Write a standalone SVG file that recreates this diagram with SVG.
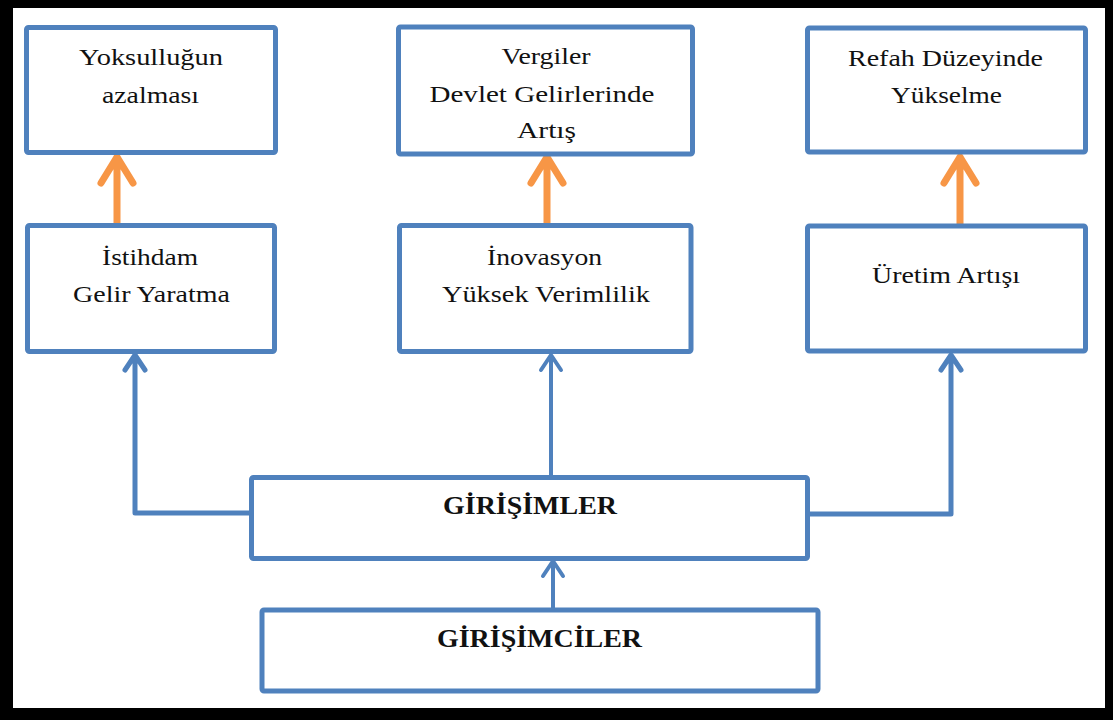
<svg xmlns="http://www.w3.org/2000/svg" width="1113" height="720" viewBox="0 0 1113 720">
<style>
.box{fill:#fff;stroke:#4F81BD;stroke-width:5;stroke-linejoin:round}
.t{font-family:"Liberation Serif","Times New Roman",serif;font-size:24px;fill:#111;text-anchor:middle}
.b{font-weight:bold;font-size:25px}
.blue{fill:none;stroke:#4F81BD;stroke-width:5;stroke-linejoin:round;stroke-linecap:round}
.thin{stroke-width:4}
.orange{fill:none;stroke:#F79646;stroke-width:7;stroke-linecap:round;stroke-linejoin:round}
</style>
<rect x="0" y="0" width="1113" height="720" fill="#000"/>
<rect x="13" y="8" width="1092" height="700" fill="#fff"/>
<g id="connectors">
<path class="orange" d="M117 224V157M101 183L117 157L133 183"/>
<path class="orange" d="M547 224V157M531 183L547 157L563 183"/>
<path class="orange" d="M960 224V157M944 183L960 157L976 183"/>
<path class="blue" d="M252 513H135V355M125 370L135 355L145 370"/>
<path class="blue" d="M807 514H951V355M941 370L951 355L961 370"/>
<path class="blue thin" d="M551 477V355M541 370L551 355L561 370"/>
<path class="blue thin" d="M553 610V561M543 576L553 561L563 576"/>
</g>
<g id="n-yoksulluk"><rect class="box" x="26.5" y="27.5" width="249" height="125" rx="2"/>
<text class="t" x="151" y="65" textLength="144" lengthAdjust="spacingAndGlyphs">Yoksulluğun</text>
<text class="t" x="150.5" y="103" textLength="97" lengthAdjust="spacingAndGlyphs">azalması</text></g>
<g id="n-vergiler"><rect class="box" x="398.5" y="27" width="294" height="127" rx="2"/>
<text class="t" x="546" y="64" textLength="89" lengthAdjust="spacingAndGlyphs">Vergiler</text>
<text class="t" x="542" y="102" textLength="225" lengthAdjust="spacingAndGlyphs">Devlet Gelirlerinde</text>
<text class="t" x="546.5" y="138" textLength="59" lengthAdjust="spacingAndGlyphs">Artış</text></g>
<g id="n-refah"><rect class="box" x="807.5" y="28" width="278" height="124" rx="2"/>
<text class="t" x="945.5" y="66" textLength="195" lengthAdjust="spacingAndGlyphs">Refah Düzeyinde</text>
<text class="t" x="946.5" y="103" textLength="111" lengthAdjust="spacingAndGlyphs">Yükselme</text></g>
<g id="n-istihdam"><rect class="box" x="27.5" y="225.5" width="247" height="126" rx="2"/>
<text class="t" x="150" y="265" textLength="96" lengthAdjust="spacingAndGlyphs">İstihdam</text>
<text class="t" x="151.5" y="302" textLength="157" lengthAdjust="spacingAndGlyphs">Gelir Yaratma</text></g>
<g id="n-inovasyon"><rect class="box" x="399.5" y="225.5" width="291.5" height="126" rx="2"/>
<text class="t" x="544.5" y="265" textLength="115" lengthAdjust="spacingAndGlyphs">İnovasyon</text>
<text class="t" x="546" y="302" textLength="208" lengthAdjust="spacingAndGlyphs">Yüksek Verimlilik</text></g>
<g id="n-uretim"><rect class="box" x="807.5" y="226" width="278" height="125" rx="2"/>
<text class="t" x="946" y="283" textLength="148" lengthAdjust="spacingAndGlyphs">Üretim Artışı</text></g>
<g id="n-girisimler"><rect class="box" x="251.5" y="477.5" width="556" height="81" rx="2"/>
<text class="t b" x="530" y="514" textLength="174" lengthAdjust="spacingAndGlyphs">GİRİŞİMLER</text></g>
<g id="n-girisimciler"><rect class="box" x="262" y="610" width="556" height="81" rx="2"/>
<text class="t b" x="539.5" y="647" textLength="205" lengthAdjust="spacingAndGlyphs">GİRİŞİMCİLER</text></g>
</svg>
